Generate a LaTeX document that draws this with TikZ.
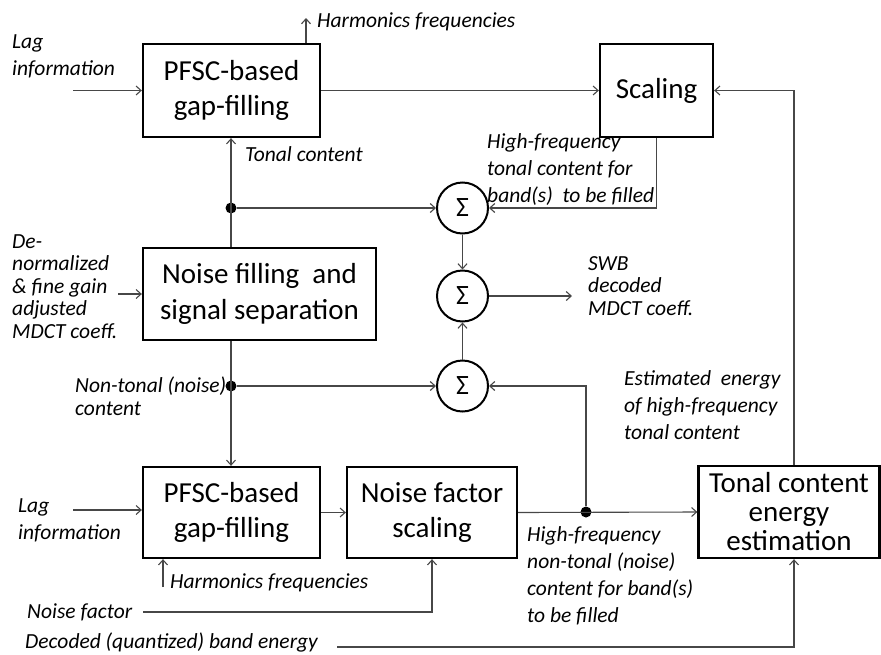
\documentclass[tikz,border=0pt]{standalone}
\usepackage{fontspec}
\setmainfont{Carlito}
\usetikzlibrary{positioning,arrows.meta}

\begin{document}
\begin{tikzpicture}[
  x=1pt, y=-1pt,
  >={Straight Barb[length=5pt,width=9pt]},
  blk/.style={rectangle, draw=black, line width=2.3pt, align=center, font=\fontsize{29}{35.5}\selectfont, inner sep=0pt},
  sumn/.style={circle, draw=black, line width=2pt, minimum size=51pt, inner sep=0pt, font=\fontsize{28}{30}\selectfont},
  lbl/.style={anchor=base west, align=left, font=\fontsize{21.5}{26.7}\selectfont\itshape, inner sep=0pt},
  tight/.style={font=\fontsize{21.5}{22.5}\selectfont\itshape},
  wire/.style={draw=black!72, line width=1.1pt},
  dot/.style={circle, fill=black, inner sep=0pt, minimum size=11pt}
]
\useasboundingbox (0,0) rectangle (881,654);

\node[blk, minimum width=177pt, minimum height=93pt] (gfA) at (231.5,90.5) {PFSC-based\\gap-filling};
\node[blk, minimum width=113pt, minimum height=93pt] (scal) at (656.5,90.5) {Scaling};
\node[blk, minimum width=233pt, minimum height=92pt] (nfss) at (259.5,294) {Noise filling\ \ and\\signal separation};
\node[blk, minimum width=177pt, minimum height=91pt] (gfB) at (231.5,512.5) {PFSC-based\\gap-filling};
\node[blk, minimum width=170pt, minimum height=91pt] (nfsc) at (432,512.5) {Noise factor\\scaling};
\node[blk, minimum width=181pt, minimum height=92pt, font=\fontsize{29}{29}\selectfont] (tcee) at (789,512) {Tonal content\\energy\\estimation};

\node[sumn] (sumA) at (462.5,208) {Σ};
\node[sumn] (sumB) at (462.5,296) {Σ};
\node[sumn] (sumC) at (462.5,386) {Σ};

\node[dot] (dtA) at (231,208) {};
\node[dot] (dtB) at (231,386) {};
\node[dot] (dtC) at (586,512) {};

\coordinate (lagA) at (73,90.5);
\coordinate (hfA) at (306,18);
\coordinate (inNF) at (118,294);
\coordinate (lagB) at (73,510);
\coordinate (hfB) at (163,587);
\coordinate (nfac) at (143,612);
\coordinate (dbe) at (337,647);
\coordinate (swb) at (572,296);
\coordinate (fb) at (794,90.5);

\draw[wire,->] (lagA) -- (gfA.west);
\draw[wire,->] (gfA.north -| hfA) -- (hfA);
\draw[wire,->] (gfA.east) -- (scal.west);
\draw[wire,->] (tcee.north -| fb) -- (fb) -- (scal.east);
\draw[wire,->] (scal.south) |- (sumA.east);
\draw[wire,->] (nfss.north -| dtA) -- (gfA.south -| dtA);
\draw[wire,->] (dtA) -- (sumA.west);
\draw[wire,->] (sumA.south) -- (sumB.north);
\draw[wire,->] (sumC.north) -- (sumB.south);
\draw[wire,->] (sumB.east) -- (swb);
\draw[wire,->] (inNF) -- (nfss.west);
\draw[wire,->] (nfss.south -| dtB) -- (gfB.north -| dtB);
\draw[wire,->] (dtB) -- (sumC.west);
\draw[wire,->] (lagB) -- (gfB.west |- lagB);
\draw[wire,->] (hfB) -- (gfB.south -| hfB);
\draw[wire,->] (gfB.east) -- (nfsc.west);
\draw[wire,->] (nfsc.east) -- (tcee.west);
\draw[wire,->] (dtC) |- (sumC.east);
\draw[wire,->] (nfac) -| (nfsc.south);
\draw[wire,->] (dbe) -| (tcee.south -| fb);

\node[lbl] (tHfA) at (317,27) {Harmonics frequencies};
\node[lbl] (tLagA) at (12,75) {Lag\\information};
\node[lbl] (tTon) at (245,161) {Tonal content};
\node[lbl] (tHft) at (487,202) {High-frequency\\tonal content for\\band(s)\ \ to be filled};
\node[lbl, tight] (tDen) at (12,338) {De-\\normalized\\\& fine gain\\adjusted\\MDCT coeff.};
\node[lbl, tight] (tNon) at (75,415) {Non-tonal (noise)\\content};
\node[lbl, tight] (tSwb) at (588,315) {SWB\\decoded\\MDCT coeff.};
\node[lbl] (tEst) at (624,439) {Estimated\ \ energy\\of high-frequency\\tonal content};
\node[lbl] (tLagB) at (18,539) {Lag\\information};
\node[lbl] (tHfB) at (170,588) {Harmonics frequencies};
\node[lbl] (tNf) at (27,618) {Noise factor};
\node[lbl] (tDbe) at (25,648) {Decoded (quantized) band energy};
\node[lbl] (tHfn) at (527,622) {High-frequency\\non-tonal (noise)\\content for band(s)\\to be filled};
\end{tikzpicture}
\end{document}
